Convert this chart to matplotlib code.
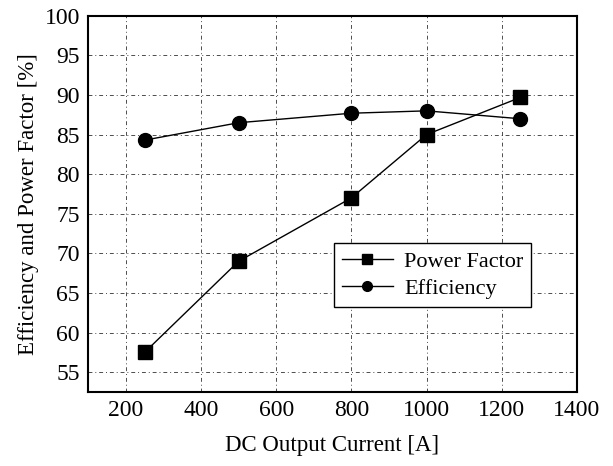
import matplotlib
matplotlib.use('Agg')
import matplotlib.pyplot as plt

current = [250, 500, 800, 1000, 1250]
power_factor = [57.5, 69.0, 77.0, 85.0, 89.7]
efficiency = [84.3, 86.5, 87.7, 88.0, 87.0]

plt.rcParams['font.family'] = 'Liberation Serif'

fig = plt.figure(figsize=(6.13, 4.66), dpi=100)
ax = fig.add_axes([0.144, 0.159, 0.797, 0.807])

ax.plot(current, power_factor, color='black', lw=1, marker='s', ms=10,
        label='Power Factor')
ax.plot(current, efficiency, color='black', lw=1, marker='o', ms=10,
        label='Efficiency')

ax.set_xlim(100, 1400)
ax.set_ylim(52.5, 100)
ax.set_xticks(range(200, 1401, 200))
ax.set_yticks(range(55, 101, 5))
ax.tick_params(direction='in', length=0, labelsize=17, pad=6)
ax.grid(True, color='black', lw=0.7, ls=(0, (4, 3, 1, 3)), alpha=0.7)
for s in ax.spines.values():
    s.set_linewidth(1.5)

ax.set_xlabel('DC Output Current [A]', fontsize=16.5, labelpad=10)
ax.set_ylabel('Efficiency and Power Factor [%]', fontsize=16.5, labelpad=4)

leg = ax.legend(loc='upper left', bbox_to_anchor=(0.48, 0.425), fontsize=16,
                fancybox=False, edgecolor='black', framealpha=1,
                handlelength=2.3, markerscale=0.7, borderpad=0.35,
                labelspacing=0.3, handletextpad=0.5)
leg.get_frame().set_linewidth(1)

fig.savefig('out.png', dpi=100)
